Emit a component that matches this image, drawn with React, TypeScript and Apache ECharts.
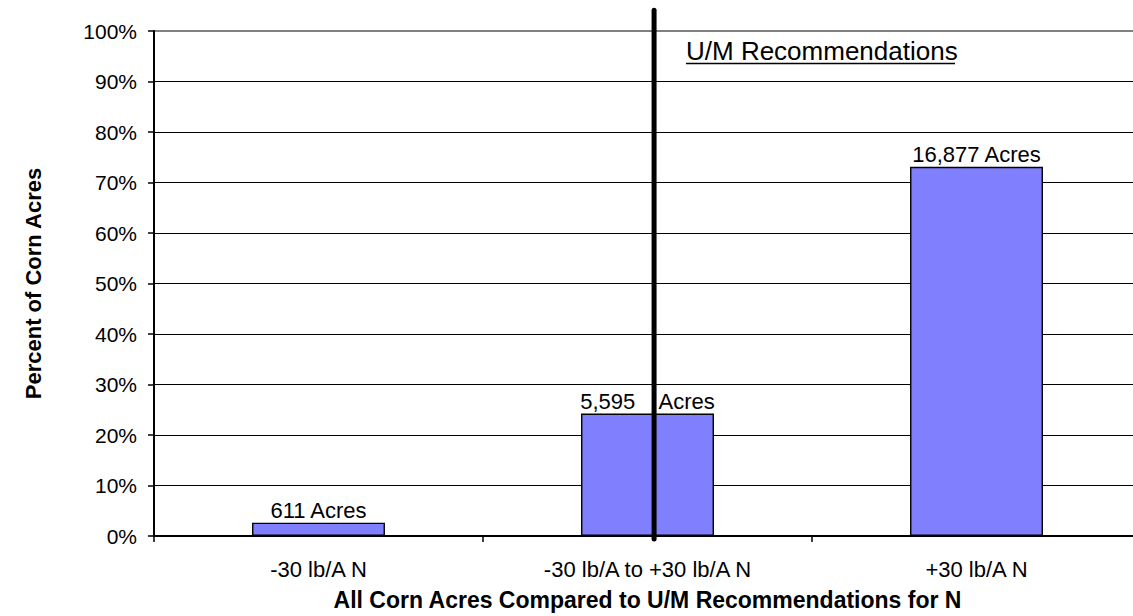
import React, { useEffect, useRef } from "react";
import * as echarts from "echarts";

// Nitrogen rate classes compared with the U/M recommendation
const categories = ["-30 lb/A N", "-30 lb/A to +30 lb/A N", "+30 lb/A N"];
// Corn acres in each class
const acres = [611, 5595, 16877];
// Text between the acre count and the word "Acres" (wider gap keeps clear of the divider)
const labelGaps = [" ", "    ", " "];
const yTicks = [0, 10, 20, 30, 40, 50, 60, 70, 80, 90, 100];

// Divider marking the recommended range, in category units along x and percent along y
const dividerX = 1.52;
const dividerSpan = [-0.6, 104.1];

const FONT = "'Liberation Sans', Arial, Helvetica, sans-serif";

const total = acres.reduce((s, v) => s + v, 0);
const percents = acres.map((v) => (v / total) * 100);

export default function App() {
  const ref = useRef<HTMLDivElement>(null);

  useEffect(() => {
    if (!ref.current) return;
    const chart = echarts.init(ref.current, undefined, { renderer: "svg" });
    const splitColors = yTicks.map((t) => (t === 100 ? "#808080" : "#000000"));

    chart.setOption({
      animation: false,
      backgroundColor: "#ffffff",
      textStyle: { fontFamily: FONT },
      grid: {
        left: 154,
        right: 0,
        top: 31,
        bottom: 77,
        show: true,
        borderColor: "#808080",
        borderWidth: 2,
        backgroundColor: "transparent",
      },
      xAxis: [
        {
          type: "category",
          data: categories,
          name: "All Corn Acres Compared to U/M Recommendations for N",
          nameLocation: "middle",
          nameGap: 52,
          nameTextStyle: { fontFamily: FONT, fontWeight: "bold", fontSize: 23, color: "#000" },
          axisLine: { show: true, lineStyle: { color: "#000", width: 2 } },
          axisTick: { show: true, length: 6, lineStyle: { color: "#000", width: 1.5 } },
          axisLabel: { fontFamily: FONT, fontSize: 22, color: "#000", margin: 22 },
          splitLine: { show: false },
        },
        {
          type: "value",
          min: 0,
          max: 3,
          show: false,
        },
      ],
      yAxis: {
        type: "value",
        min: 0,
        max: 100,
        interval: 10,
        name: "Percent of Corn Acres",
        nameLocation: "middle",
        nameGap: 110,
        nameRotate: 90,
        nameTextStyle: { fontFamily: FONT, fontWeight: "bold", fontSize: 22, color: "#000" },
        axisLine: { show: true, lineStyle: { color: "#000", width: 2 } },
        axisTick: { show: true, length: 6, lineStyle: { color: "#000", width: 1.5 } },
        axisLabel: { fontFamily: FONT, fontSize: 21, color: "#000", margin: 17, formatter: "{value}%" },
        splitLine: { show: true, lineStyle: { color: splitColors, width: 1 } },
      },
      series: [
        {
          type: "bar",
          data: percents,
          barWidth: "40.4%",
          itemStyle: { color: "#8080FF", borderColor: "#000", borderWidth: 1.4 },
          label: {
            show: true,
            position: "top",
            distance: 1,
            fontFamily: FONT,
            fontSize: 22,
            color: "#000",
            formatter: (p: any) =>
              acres[p.dataIndex].toLocaleString("en-US") + labelGaps[p.dataIndex] + "Acres",
          },
          z: 2,
        },
        {
          type: "line",
          xAxisIndex: 1,
          data: dividerSpan.map((y) => [dividerX, y]),
          symbol: "none",
          clip: false,
          lineStyle: { color: "#000", width: 5, cap: "round" },
          silent: true,
          z: 3,
        },
      ],
      graphic: [
        {
          type: "text",
          left: 686,
          top: 38,
          style: {
            text: "U/M Recommendations",
            fontFamily: FONT,
            fontSize: 26,
            fill: "#000",
          },
        },
        {
          type: "line",
          shape: { x1: 686, y1: 63.5, x2: 955, y2: 63.5 },
          style: { stroke: "#000", lineWidth: 1.7 },
        },
      ],
    });

    return () => chart.dispose();
  }, []);

  // The plot frame runs slightly past the right edge of the window, so the chart box is a bit wider than the view.
  return (
    <div
      ref={ref}
      style={{ position: "fixed", left: 0, top: 0, width: 1141, height: 616, background: "#fff" }}
    />
  );
}
